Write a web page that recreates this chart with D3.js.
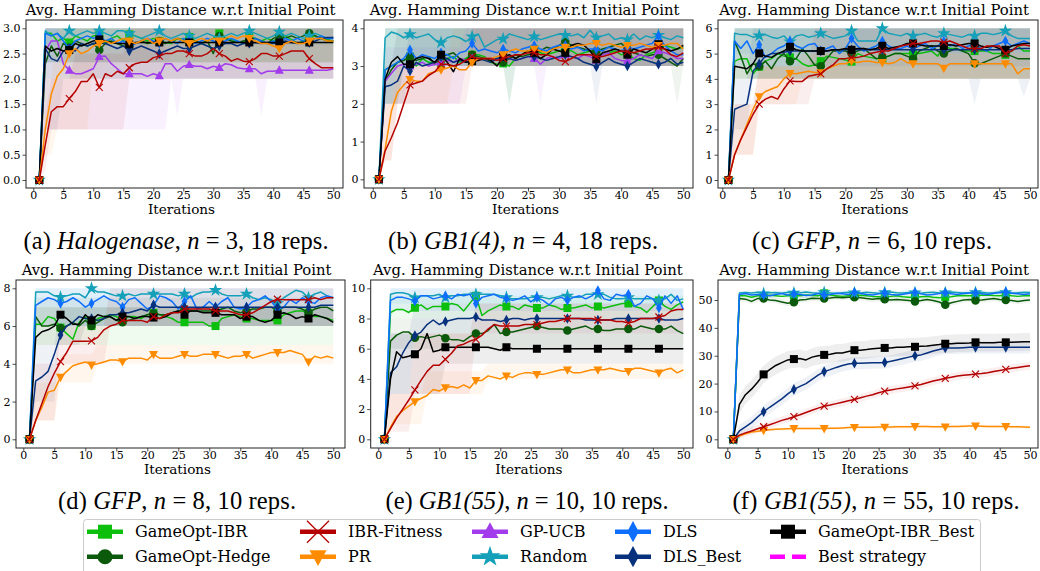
<!DOCTYPE html>
<html>
<head>
<meta charset="utf-8">
<script src="https://cdn.jsdelivr.net/npm/d3@7"></script>
<style>
  body { margin: 0; background: #fff; }
  svg { display: block; }
  text { font-family: "DejaVu Serif", serif; fill: #000; }
  text.cap { font-family: "Liberation Serif", "Times New Roman", serif; }
</style>
</head>
<body>
<svg id="fig" width="1040" height="571"></svg>
<script>
// Avg. Hamming distance to the initial point, 6 benchmark panels + shared legend.
const ITERS = d3.range(1, 51);
const X_TICKS = [0, 5, 10, 15, 20, 25, 30, 35, 40, 45, 50];

// ---- (a) Halogenase, n = 3
const a_ibr   = [0,2.9,2.9,2.75,2.8,2.72,2.85,2.8,2.75,2.85, 2.87,2.7,2.8,2.85,2.75,2.88,2.85,2.8,2.75,2.8, 2.75,2.72,2.7,2.8,2.78,2.83,2.75,2.7,2.75,2.8, 2.9,2.8,2.78,2.75,2.7,2.83,2.8,2.75,2.8,2.75, 2.82,2.85,2.78,2.7,2.75,2.83,2.85,2.8,2.78,2.75];
const a_hedge = [0,2.3,2.65,2.45,2.7,2.62,2.75,2.7,2.65,2.7, 2.57,2.7,2.75,2.7,2.65,2.65,2.7,2.75,2.7,2.72, 2.75,2.7,2.75,2.8,2.75,2.72,2.75,2.7,2.75,2.5, 2.85,2.8,2.75,2.72,2.75,2.78,2.8,2.75,2.7,2.8, 2.85,2.8,2.85,2.8,2.85,2.9,2.85,2.8,2.75,2.75];
const a_fit   = [0,0.7,1.35,1.45,1.45,1.61,1.75,1.95,1.95,2.1, 1.83,2.1,2.05,2.15,2.1,2.22,2.3,2.33,2.33,2.42, 2.45,2.5,2.5,2.55,2.55,2.5,2.45,2.45,2.5,2.6, 2.5,2.45,2.35,2.4,2.35,2.34,2.4,2.5,2.5,2.45, 2.45,2.5,2.55,2.55,2.55,2.4,2.3,2.22,2.22,2.22];
const a_pr    = [0,1.0,1.7,2.05,2.2,2.5,2.6,2.5,2.55,2.65, 2.7,2.75,2.7,2.75,2.8,2.75,2.7,2.75,2.8,2.7, 2.75,2.8,2.75,2.8,2.75,2.7,2.75,2.8,2.75,2.8, 2.75,2.8,2.85,2.8,2.85,2.8,2.75,2.7,2.7,2.65, 2.6,2.7,2.75,2.7,2.7,2.75,2.8,2.8,2.75,2.75];
const a_ucb   = [0,2.55,2.75,2.75,2.3,2.17,2.1,2.1,2.15,2.2, 2.44,2.45,2.3,2.2,2.1,2.1,2.1,2.1,2.05,2.1, 2.06,2.3,2.3,2.15,2.25,2.28,2.25,2.25,2.2,2.25, 2.22,2.3,2.28,2.22,2.2,2.2,2.2,2.1,2.15,2.15, 2.17,2.17,2.17,2.17,2.17,2.17,2.17,2.17,2.17,2.2];
const a_rand  = [0,2.95,2.85,2.9,2.8,2.95,2.85,2.9,2.95,2.9, 2.95,2.9,2.85,2.95,2.95,2.9,2.85,2.8,2.85,2.9, 2.95,2.85,2.8,2.85,2.9,2.85,2.8,2.85,2.9,2.85, 2.8,2.85,2.9,2.85,2.9,2.95,2.9,2.85,2.8,2.85, 2.93,2.85,2.9,2.85,2.8,2.85,2.9,2.85,2.8,2.82];
const a_dls   = [0,2.9,2.85,2.9,2.75,2.6,2.75,2.8,2.85,2.8, 2.85,2.75,2.8,2.7,2.75,2.6,2.7,2.75,2.8,2.75, 2.7,2.8,2.75,2.7,2.8,2.75,2.7,2.75,2.8,2.75, 2.7,2.75,2.8,2.75,2.7,2.72,2.8,2.75,2.7,2.75, 2.72,2.8,2.75,2.8,2.75,2.72,2.8,2.85,2.8,2.8];
const a_dlsb  = [0,2.6,2.4,2.35,2.55,2.6,2.55,2.7,2.65,2.7, 2.72,2.7,2.65,2.6,2.65,2.55,2.6,2.65,2.6,2.55, 2.5,2.55,2.6,2.65,2.6,2.6,2.65,2.7,2.65,2.6, 2.65,2.7,2.7,2.65,2.7,2.7,2.72,2.7,2.72,2.7, 2.72,2.75,2.72,2.7,2.72,2.72,2.75,2.8,2.82,2.82];
const a_ibrb  = [0,2.65,2.55,2.6,2.55,2.57,2.7,2.65,2.7,2.75, 2.78,2.75,2.72,2.7,2.7,2.68,2.72,2.72,2.72,2.72, 2.72,2.72,2.72,2.72,2.72,2.72,2.72,2.72,2.72,2.72, 2.72,2.72,2.72,2.72,2.72,2.72,2.72,2.72,2.72,2.72, 2.72,2.72,2.72,2.72,2.72,2.72,2.72,2.72,2.72,2.72];
// shaded spread: [series, first iter, last iter, low, high]
const a_bands = [
  ['rand',2,50,2.67,3], ['dls',2,50,2.33,3], ['dlsb',2,4,1,3], ['dlsb',5,50,2,3],
  ['ibrb',2,50,2.33,3], ['ibr',2,50,2.33,3], ['hedge',2,50,2,3],
  ['pr',2,3,0.5,2], ['pr',4,9,1,3], ['pr',10,50,2.33,3],
  ['fit',2,2,0.2,1.3], ['fit',3,6,1,2], ['fit',7,15,1,2.5], ['fit',16,50,2,3],
  ['ucb',2,4,1,3], ['ucb',5,22,1,2.67], ['ucb',23,50,2,2.33], ['ucb',24,24,1.25,2.33], ['ucb',38,38,1.25,2.33]
];

// ---- (b) GB1(4), n = 4
const b_ibr   = [0,2.9,3.0,3.1,3.15,3.25,3.0,3.2,3.1,3.1, 3.05,3.2,3.25,3.1,3.2,3.3,3.3,3.25,3.1,3.05, 3.07,3.0,3.2,3.3,3.4,3.45,3.35,3.3,3.35,3.4, 3.45,3.4,3.3,3.35,3.4,3.35,3.3,3.35,3.4,3.3, 3.35,3.2,3.15,3.3,3.35,3.4,3.55,3.5,3.45,3.5];
const b_hedge = [0,2.6,2.9,3.1,3.15,3.25,3.15,3.2,3.25,3.05, 3.25,3.3,3.35,3.2,3.15,3.3,3.25,3.2,3.15,3.2, 3.1,3.2,3.3,3.25,3.3,3.35,3.4,3.5,3.45,3.55, 3.65,3.55,3.5,3.45,3.4,3.4,3.45,3.5,3.55,3.6, 3.45,3.35,3.3,3.25,3.3,3.3,3.2,3.1,3.0,3.2];
const b_fit   = [0,0.75,1.1,1.5,2.0,2.5,2.55,2.6,2.75,2.85, 3.05,3.05,3.0,3.05,3.15,3.25,3.2,3.2,3.2,3.15, 3.2,3.25,3.3,3.3,3.35,3.35,3.3,3.3,3.25,3.15, 3.12,3.2,3.3,3.3,3.3,3.25,3.25,3.3,3.35,3.4, 3.38,3.35,3.4,3.45,3.45,3.5,3.45,3.3,3.25,3.35];
const b_pr    = [0,0.8,1.8,2.3,2.5,2.65,2.6,2.6,2.8,2.85, 2.9,2.95,3.0,2.9,2.9,3.1,3.2,3.2,3.2,3.25, 3.3,3.4,3.45,3.4,3.4,3.45,3.4,3.35,3.45,3.5, 3.5,3.5,3.55,3.55,3.6,3.6,3.55,3.6,3.55,3.5, 3.55,3.55,3.6,3.55,3.5,3.55,3.55,3.6,3.6,3.45];
const b_ucb   = [0,2.6,2.8,3.0,3.05,3.0,3.05,3.1,3.0,3.05, 3.1,3.15,3.1,3.2,3.15,3.2,3.15,3.2,3.2,3.15, 3.25,3.2,3.15,3.2,3.25,3.2,3.05,3.2,3.25,3.2, 3.3,3.25,3.2,3.3,3.25,3.15,3.3,3.35,3.2,3.15, 3.13,3.2,3.3,3.25,3.2,3.4,3.35,3.3,3.2,3.2];
const b_rand  = [0,3.75,3.9,3.85,3.75,3.84,3.75,3.8,3.85,3.7, 3.62,3.75,3.8,3.75,3.65,3.78,3.85,3.5,3.6,3.7, 3.72,3.85,3.8,3.75,3.7,3.78,3.7,3.75,3.8,3.85, 3.82,3.8,3.85,3.75,3.95,3.75,3.8,3.85,3.7,3.75, 3.7,3.85,3.7,3.8,3.75,3.82,3.75,3.7,3.8,3.75];
const b_dls   = [0,2.9,3.0,3.1,3.2,3.43,3.2,3.3,3.25,3.2, 3.35,3.3,3.2,3.35,3.4,3.6,3.4,3.45,3.4,3.35, 3.45,3.4,3.35,3.45,3.5,3.55,3.45,3.4,3.5,3.55, 3.55,3.45,3.5,3.4,3.45,3.45,3.4,3.5,3.45,3.4, 3.5,3.45,3.5,3.55,3.6,3.8,3.55,3.4,3.3,3.3];
const b_dlsb  = [0,2.45,2.5,2.6,3.0,2.87,3.1,3.0,3.05,3.1, 3.25,3.2,3.1,3.15,3.1,3.15,3.2,3.15,3.1,3.2, 3.25,3.2,3.15,3.2,3.25,3.25,3.2,3.15,3.2,3.25, 3.3,3.25,3.2,3.1,3.05,2.98,3.1,3.2,3.1,3.05, 3.0,3.1,3.2,3.15,3.1,3.05,3.1,3.2,3.05,3.1];
const b_ibrb  = [0,2.65,3.1,3.25,3.05,3.05,3.2,3.25,3.2,3.1, 3.3,3.1,2.85,3.2,3.1,3.13,3.15,3.2,3.15,3.0, 3.25,3.3,3.2,3.3,3.4,3.35,3.2,3.3,3.45,3.4, 3.35,3.55,3.6,3.55,3.4,3.18,3.35,3.4,3.45,3.4, 3.3,3.45,3.4,3.35,3.45,3.58,3.45,3.4,3.45,3.55];
const b_bands = [
  ['rand',2,50,3,4], ['dls',2,50,3,4], ['dlsb',2,5,2,3], ['dlsb',6,50,3,4], ['dlsb',22,22,2,4], ['dlsb',36,36,2,4],
  ['ibrb',2,3,2,3], ['ibrb',4,50,3,4], ['ibr',2,4,2,4], ['ibr',5,50,3,4], ['ibr',22,22,2,4],
  ['hedge',2,4,2,4], ['hedge',5,50,3,4], ['hedge',49,49,2,4],
  ['pr',2,3,0.5,2], ['pr',4,12,2,3], ['pr',13,50,3,4],
  ['fit',2,3,0.5,2], ['fit',4,15,2,3], ['fit',16,50,3,4],
  ['ucb',2,14,2,3.5], ['ucb',15,50,3,4], ['ucb',27,27,2,4]
];

// ---- (c) GFP, n = 6
const c_ibr   = [0,4.7,4.8,4.8,4.2,4.48,4.7,4.8,5.0,4.9, 4.85,4.8,4.6,4.5,4.55,4.7,4.9,4.85,4.8,4.75, 4.68,5.0,4.9,4.85,4.8,4.8,4.9,5.0,5.0,5.0, 5.0,5.0,5.05,5.1,4.9,5.3,5.2,5.2,5.1,5.1, 5.1,5.1,5.1,5.0,5.0,4.95,5.1,5.3,5.1,5.1];
const c_hedge = [0,5.5,4.9,4.2,4.6,4.5,4.7,4.4,4.8,5.0, 4.7,4.8,5.2,4.9,4.55,4.5,4.8,5.1,5.1,5.1, 5.0,5.1,5.2,5.0,4.8,4.85,4.9,5.0,5.0,4.9, 4.8,5.1,5.2,5.3,5.1,5.0,5.1,5.2,5.1,5.0, 4.62,4.6,4.7,4.8,4.9,5.0,4.9,4.8,4.8,4.8];
const c_fit   = [0,1.0,1.6,2.1,2.6,3.0,3.2,3.3,3.2,3.6, 3.92,3.9,3.9,4.1,4.15,4.2,4.4,4.55,4.8,4.8, 4.85,4.85,4.9,5.0,5.05,5.1,5.1,5.2,5.3,5.35, 5.4,5.4,5.45,5.5,5.5,5.45,5.5,5.4,5.3,5.2, 5.2,5.2,5.3,5.3,5.3,5.0,5.1,5.3,5.35,5.3];
const c_pr    = [0,1.0,1.6,2.2,2.8,3.3,3.5,3.6,3.7,4.0, 4.22,4.2,4.25,4.3,4.25,4.25,4.4,4.5,4.6,4.6, 4.7,4.65,4.7,4.7,4.65,4.65,4.6,4.65,4.8,4.65, 4.6,4.6,4.6,4.6,4.6,4.42,4.6,4.6,4.6,4.6, 4.6,4.6,4.6,4.6,4.6,4.6,4.6,4.2,4.4,4.4];
const c_rand  = [0,5.8,5.75,5.75,5.65,5.71,5.75,5.65,5.6,5.7, 5.47,5.7,5.75,5.65,5.7,5.8,5.7,5.6,5.65,5.7, 5.9,5.5,5.5,5.5,5.5,6.0,5.8,5.75,5.7,5.8, 5.7,5.75,5.8,5.7,5.65,5.8,5.75,5.7,5.65,5.75, 5.7,5.8,5.8,5.75,5.8,5.9,5.7,5.6,5.6,5.6];
const c_dls   = [0,5.5,5.2,5.5,5.0,5.35,4.85,5.0,5.2,5.3, 5.5,5.3,5.2,5.35,5.4,5.1,5.2,5.3,5.0,5.2, 5.6,5.3,5.1,5.2,5.3,5.5,5.3,5.2,5.2,5.3, 5.2,5.3,5.4,5.2,5.3,5.5,5.3,5.4,5.2,5.3, 5.4,5.2,5.1,5.3,5.4,5.5,5.3,5.4,5.5,5.4];
const c_dlsb  = [0,2.8,2.9,3.0,4.3,4.6,4.9,5.0,5.0,5.05, 5.1,5.1,5.1,5.1,5.1,5.1,5.1,5.15,5.15,5.15, 5.15,5.15,5.15,5.15,5.15,5.15,5.15,5.15,5.15,5.15, 5.15,5.15,5.15,5.15,5.15,5.15,5.15,5.15,5.15,5.15, 5.15,5.15,5.15,5.15,5.15,5.15,5.15,5.2,5.2,5.2];
const c_ibrb  = [0,4.5,4.45,4.4,4.6,5.01,4.9,4.85,5.0,5.1, 5.27,5.15,5.1,5.1,5.1,5.1,5.1,5.15,5.15,5.2, 5.15,5.2,5.2,5.15,5.2,5.31,5.2,5.25,5.3,5.4, 5.4,5.35,5.3,5.3,5.3,5.3,5.35,5.3,5.35,5.4, 5.4,5.3,5.25,5.3,5.2,5.15,5.3,5.35,5.4,5.4];
const c_bands = [
  ['rand',2,50,5,6], ['dls',2,50,4.5,6], ['dlsb',2,4,2,4], ['dlsb',5,50,4,6], ['dlsb',41,41,3,6], ['dlsb',49,49,3.3,6],
  ['ibrb',2,50,4,6], ['ibr',2,50,4,6], ['hedge',2,50,4,6],
  ['pr',2,5,1,3], ['pr',6,12,3,4.5], ['pr',13,50,4,5],
  ['fit',2,5,1,3], ['fit',6,14,3,4.5], ['fit',15,50,4,6]
];

// ---- (d) GFP, n = 8
const d_ibr   = [0,6.1,6.1,6.5,6.4,5.92,5.6,5.3,6.2,6.5, 6.0,6.4,6.5,6.6,6.5,6.3,6.5,6.5,6.4,6.6, 6.7,6.6,6.5,6.4,6.2,6.2,6.2,6.2,6.2,6.0, 6.0,6.4,6.5,6.6,6.5,6.4,6.4,6.3,6.3,6.3, 6.3,6.6,6.7,6.8,6.8,6.7,6.5,6.5,6.4,6.3];
const d_hedge = [0,6.5,6.0,6.0,6.1,5.9,6.0,6.2,6.0,6.3, 6.0,6.2,6.4,6.5,6.3,6.2,6.3,6.4,6.5,6.6, 6.68,6.6,6.6,6.7,6.8,6.9,6.8,6.8,6.8,6.8, 6.8,6.9,7.0,6.8,6.7,6.8,6.9,6.9,7.0,7.0, 6.8,7.0,7.0,7.0,6.9,6.7,6.9,7.0,7.0,6.8];
const d_fit   = [0,1.0,1.9,2.8,3.5,4.12,4.6,5.2,5.2,5.2, 5.21,5.4,5.8,6.0,6.1,6.29,6.3,6.3,6.3,6.2, 6.5,6.4,6.6,6.7,6.7,6.9,6.9,6.9,6.9,6.9, 6.8,6.8,6.8,6.7,6.6,6.6,6.7,6.9,7.1,7.3, 7.42,7.4,7.4,7.4,7.4,7.4,7.5,7.4,7.5,7.5];
const d_pr    = [0,1.0,1.7,2.5,2.6,3.29,3.6,3.9,4.0,4.1, 3.94,4.0,4.1,4.2,4.2,4.12,4.3,4.3,4.3,4.2, 4.5,4.3,4.3,4.3,4.4,4.5,4.4,4.4,4.5,4.5, 4.5,4.4,4.3,4.4,4.4,4.5,4.3,4.4,4.5,4.6, 4.6,4.6,4.7,4.6,4.5,4.1,4.4,4.3,4.4,4.3];
const d_rand  = [0,7.8,7.8,7.8,7.6,7.53,7.6,7.7,7.7,7.5, 8.0,7.8,7.8,7.7,7.6,7.6,7.7,7.6,7.7,7.7, 7.7,7.7,7.7,7.7,7.6,7.7,7.5,7.7,7.8,7.8, 7.9,7.7,7.6,7.6,7.6,7.7,7.5,7.4,7.5,7.4, 7.2,7.5,7.7,7.9,7.8,7.5,7.7,7.8,7.6,7.5];
const d_dls   = [0,7.1,7.3,7.5,7.4,7.2,7.3,7.5,7.3,7.0, 7.2,7.4,7.6,7.4,7.3,7.0,7.4,7.5,7.2,6.9, 7.1,7.6,7.5,7.3,6.9,7.3,7.6,6.9,7.0,7.3, 7.0,7.3,7.5,7.0,6.9,7.0,7.3,7.4,7.6,7.3, 6.9,7.0,7.4,7.2,7.5,7.3,7.2,7.5,7.6,7.5];
const d_dlsb  = [0,3.1,3.3,3.6,4.5,5.53,6.0,6.2,6.5,6.4, 6.4,6.3,6.4,6.6,6.6,6.7,6.7,6.8,6.9,6.8, 7.12,7.0,7.0,7.0,7.0,7.0,7.0,7.0,7.0,7.0, 7.0,7.0,7.0,7.0,7.0,7.0,7.0,7.0,7.0,7.0, 7.0,7.0,7.0,7.0,7.0,7.0,7.0,7.1,7.1,7.1];
const d_ibrb  = [0,5.4,5.7,5.8,6.0,6.6,6.4,6.1,6.1,6.6, 6.3,6.6,6.5,6.5,6.3,6.5,6.5,6.4,6.5,6.5, 6.45,6.4,6.5,6.7,6.8,6.6,6.8,6.8,6.7,6.7, 6.7,6.6,6.6,6.6,6.4,6.5,6.5,6.3,6.2,6.3, 6.6,6.7,6.6,6.4,6.5,6.4,6.6,6.5,6.4,6.2];
const d_bands = [
  ['rand',2,50,7,8], ['dls',2,50,6,8], ['dlsb',2,5,2,5], ['dlsb',6,50,6,7],
  ['ibrb',2,9,5,7], ['ibrb',10,50,6,7], ['ibr',2,50,5,7], ['hedge',2,50,6,7.5],
  ['pr',2,5,1,3], ['pr',6,11,3,4.5], ['pr',12,50,4,5],
  ['fit',2,5,1,4], ['fit',6,13,4,6], ['fit',14,50,6,8]
];

// ---- (e) GB1(55), n = 10
const e_ibr   = [0,8.4,8.6,8.6,8.4,8.72,8.9,8.6,8.8,8.8, 8.8,9.0,8.9,8.5,9.0,9.5,8.2,8.5,8.7,8.9, 8.8,8.8,8.6,8.9,8.8,8.7,8.7,8.9,8.8,8.6, 8.7,8.7,8.8,8.9,8.7,8.8,8.7,8.8,8.9,9.0, 9.0,8.8,8.7,8.4,8.8,9.2,8.8,8.6,8.9,9.1];
const e_hedge = [0,6.5,6.9,7.1,7.1,6.73,6.8,6.7,6.8,6.9, 6.7,6.6,6.6,6.5,6.8,7.0,7.0,7.2,7.6,7.0, 7.1,7.1,7.2,7.3,7.4,7.5,7.4,7.3,7.3,7.3, 7.2,7.3,7.4,7.5,7.3,7.3,7.2,7.2,7.3,7.3, 7.3,7.3,7.5,7.4,7.3,7.3,7.3,7.5,7.2,7.0];
const e_fit   = [0,0.7,1.4,2.0,2.6,3.27,3.9,4.5,4.9,4.9, 5.3,5.7,6.2,6.3,6.5,6.62,6.9,7.3,7.6,7.5, 7.5,7.5,7.5,7.6,7.6,7.6,7.7,7.8,7.8,7.9, 8.0,8.0,8.0,8.0,8.0,7.9,7.9,7.9,7.8,7.8, 7.7,7.8,8.0,8.0,8.0,8.1,8.2,8.5,8.6,8.6];
const e_pr    = [0,0.8,1.5,1.9,2.2,2.5,2.7,2.9,3.3,3.2, 3.42,3.5,3.4,3.6,3.4,3.9,3.9,4.2,4.1,4.0, 4.2,4.1,4.3,4.4,4.4,4.3,4.3,4.4,4.5,4.6, 4.6,4.4,4.4,4.5,4.6,4.6,4.6,4.7,4.6,4.5, 4.5,4.7,4.7,4.6,4.5,4.4,4.6,4.7,4.4,4.6];
const e_rand  = [0,9.6,9.7,9.7,9.6,9.38,9.5,9.5,9.5,9.6, 9.4,9.5,9.5,9.6,9.6,9.6,9.6,9.6,9.6,9.5, 9.4,9.3,9.3,9.3,9.4,9.4,9.4,9.3,9.4,9.5, 9.5,9.4,9.4,9.6,9.6,9.6,9.6,9.4,9.3,9.3, 9.4,9.3,9.3,9.3,9.3,9.2,9.3,9.6,9.2,9.3];
const e_dls   = [0,9.2,9.4,9.4,9.3,9.15,9.5,9.5,9.3,9.4, 9.5,9.3,9.6,9.5,9.6,9.0,9.4,9.5,9.6,9.4, 9.3,9.2,9.3,9.5,9.1,9.4,9.2,8.9,9.3,9.4, 9.2,9.4,9.5,9.3,9.5,9.85,9.3,9.2,9.6,9.5, 9.6,8.8,9.0,9.5,9.3,8.7,9.5,9.0,9.5,8.6];
const e_dlsb  = [0,4.4,4.8,5.7,6.4,6.87,7.1,7.6,7.9,7.6, 7.8,7.9,8.0,8.0,8.0,8.1,7.9,7.9,7.9,7.8, 7.9,8.0,8.0,7.9,8.0,8.0,8.0,8.0,8.0,8.0, 8.0,8.0,8.0,7.9,7.9,7.9,7.9,7.9,8.0,8.0, 8.0,8.0,8.0,8.0,8.0,8.0,7.9,7.9,7.9,8.0];
const e_ibrb  = [0,4.0,5.8,5.4,5.5,5.63,6.0,7.0,5.8,5.9, 6.1,6.1,6.1,6.1,6.1,6.1,6.1,6.1,6.0,5.9, 6.1,6.0,6.0,6.0,6.0,6.0,6.0,6.0,6.0,6.0, 6.0,6.0,6.0,6.0,6.0,6.0,6.0,6.0,6.0,6.0, 6.0,6.0,6.0,6.0,6.0,6.0,6.0,6.0,6.0,6.0];
const e_bands = [
  ['rand',2,50,9,10], ['dls',2,50,8.5,10], ['ibr',2,50,8,9.5], ['dlsb',2,5,3,7], ['dlsb',6,50,7,9],
  ['hedge',2,50,6,8], ['ibrb',2,10,3,7], ['ibrb',11,50,5,7],
  ['fit',2,5,0.5,3], ['fit',6,15,3,7], ['fit',16,50,7,9],
  ['pr',2,7,1,3], ['pr',8,17,3,4.5], ['pr',18,50,4,5]
];

// ---- (f) GB1(55), n = 55
const f_ibr   = [0,51.5,51.5,51,51.5,51.5,51.7,51.5,51.3,51.5, 51.6,51.5,51.8,51.6,51.5,52.4,51.8,51.5,51.3,51.5, 51.6,51.7,51.5,51.3,51.2,51.0,51.3,51.5,51.2,51.0, 51.0,51.2,51.3,51.0,50.8,51.0,51.2,51.5,51.6,51.5, 51.5,51.7,51.8,51.6,51.5,51.8,51.5,51.3,51.5,51.5];
const f_hedge = [0,50.5,50.3,49.5,50.5,50.5,50.0,49.8,49.3,48.8, 49.2,50.0,50.2,50.6,50.5,50.5,50.7,51.0,50.8,51.0, 51.0,50.8,50.5,50.3,50.5,50.3,50.0,50.2,50.0,49.8, 49.5,49.8,50.2,49.8,49.3,48.3,49.0,49.5,50.0,50.2, 49.8,50.0,50.3,50.5,50.2,50.0,49.8,49.5,49.8,50.0];
const f_fit   = [0,1.5,2.3,3.0,3.8,4.5,5.2,6.0,6.8,7.4, 8.1,8.8,9.6,10.4,11.2,11.9,12.3,12.8,13.3,13.8, 14.3,14.9,15.5,16.0,16.7,17.3,17.7,18.1,18.4,18.8, 19.2,19.7,20.3,20.9,21.4,21.9,22.3,22.7,23.0,23.2, 23.4,23.6,23.9,24.3,24.7,25.1,25.5,25.8,26.1,26.4];
const f_pr    = [0,1.2,2.0,2.6,2.9,3.2,3.4,3.6,3.7,3.8, 3.9,3.9,3.9,3.9,3.9,3.9,4.0,4.0,4.1,4.2, 4.3,4.3,4.3,4.3,4.4,4.4,4.4,4.5,4.5,4.5, 4.6,4.6,4.6,4.5,4.5,4.5,4.6,4.6,4.7,4.8, 4.8,4.7,4.6,4.6,4.6,4.6,4.5,4.5,4.4,4.3];
const f_rand  = [0,52.5,52.7,52.5,52.8,52.3,52.6,52.7,52.4,52.8, 52.5,52.6,52.9,52.6,52.4,52.7,52.5,52.3,52.6,52.8, 52.6,52.5,52.8,52.6,52.4,52.7,52.9,52.6,52.5,52.7, 52.6,52.4,52.7,52.8,52.5,52.6,52.9,52.7,52.5,52.6, 52.7,52.8,52.5,52.6,52.9,52.7,52.5,52.6,52.8,52.7];
const f_dls   = [0,52.0,52.3,51.8,52.0,51.8,51.5,52.0,52.3,51.8, 52.2,52.0,51.6,51.8,52.3,51.8,52.0,52.4,52.2,52.0, 52.8,52.3,52.0,51.8,52.2,52.6,52.0,51.8,52.1,52.4, 52.8,52.2,51.8,52.0,52.3,52.7,52.2,52.0,52.3,52.5, 52.6,52.2,52.0,52.4,52.6,52.9,52.4,52.2,52.0,52.2];
const f_dlsb  = [0,3,4.5,6,8,9.9,11.5,13,14.5,16.3, 17.9,19,20,21.5,23,24.3,25,25.8,26.5,27, 27.3,27.3,27.4,27.5,27.5,27.6,28,28.5,29,29.5, 30,30.3,31,31.7,32.2,32.8,32.8,32.8,32.9,33, 33,33,33,33,33,33,33,33,33,33];
const f_ibrb  = [0,12.5,16,18,20.5,23.3,25,26.5,27.5,28.5, 28.8,29,28.5,29.5,30,30.3,30.5,31,31,31.5, 32,32,32.2,32.5,32.7,32.8,32.8,33,33,33.2, 33.2,33.4,33.5,33.8,34,34.3,34.3,34.5,34.5,34.6, 34.8,34.7,34.7,34.7,34.8,34.8,34.8,34.9,35,35];
// half-width of the shaded spread per series (from iteration 2 on)
const f_spread = [['rand',0.8], ['dls',1], ['ibr',1], ['hedge',1], ['ibrb',3.2], ['dlsb',2.2], ['fit',1.4], ['pr',0.6]];

const SERIES = [
  { key: 'ibr',   name: 'GameOpt-IBR',      color: '#0cbf0c', mark: 'square' },
  { key: 'hedge', name: 'GameOpt-Hedge',    color: '#0b5a0b', mark: 'circle' },
  { key: 'fit',   name: 'IBR-Fitness',      color: '#b50000', mark: 'x' },
  { key: 'pr',    name: 'PR',               color: '#ff8c00', mark: 'tridown' },
  { key: 'ucb',   name: 'GP-UCB',           color: '#a23bec', mark: 'triup' },
  { key: 'rand',  name: 'Random',           color: '#13a0b8', mark: 'star' },
  { key: 'dls',   name: 'DLS',              color: '#0d6efd', mark: 'thin' },
  { key: 'dlsb',  name: 'DLS_Best',         color: '#07307d', mark: 'thin' },
  { key: 'ibrb',  name: 'GameOpt-IBR_Best', color: '#000000', mark: 'square' },
  { key: 'best',  name: 'Best strategy',    color: '#ff00ff', mark: 'dash' }
];
// draw order inside each panel
const DRAW_ORDER = ['ibr', 'hedge', 'ucb', 'rand', 'dls', 'dlsb', 'ibrb', 'pr', 'fit'];

const PANELS = [
  { tag: '(a)', name: 'Halogenase', n: 3,  reps: 18, yTicks: [0,0.5,1,1.5,2,2.5,3], yFmt: '.1f', yTop: 3,
    box: { l: 26, r: 343, t: 20, b: 188 }, x0: 33.3, x50: 333.3, y0: 180, yT: 28.3, capX: 176, capY: 249, capW: 305,
    data: { ibr: a_ibr, hedge: a_hedge, fit: a_fit, pr: a_pr, ucb: a_ucb, rand: a_rand, dls: a_dls, dlsb: a_dlsb, ibrb: a_ibrb }, bands: a_bands },
  { tag: '(b)', name: 'GB1(4)', n: 4, reps: 18, yTicks: [0,1,2,3,4], yFmt: 'd', yTop: 4,
    box: { l: 364, r: 693, t: 20, b: 188 }, x0: 372.7, x50: 683.3, y0: 179.3, yT: 28.3, capX: 523, capY: 249, capW: 270,
    data: { ibr: b_ibr, hedge: b_hedge, fit: b_fit, pr: b_pr, ucb: b_ucb, rand: b_rand, dls: b_dls, dlsb: b_dlsb, ibrb: b_ibrb }, bands: b_bands },
  { tag: '(c)', name: 'GFP', n: 6, reps: 10, yTicks: [0,1,2,3,4,5,6], yFmt: 'd', yTop: 6,
    box: { l: 718, r: 1038, t: 20, b: 188 }, x0: 722.3, x50: 1030, y0: 180, yT: 28.3, capX: 872, capY: 249, capW: 240,
    data: { ibr: c_ibr, hedge: c_hedge, fit: c_fit, pr: c_pr, rand: c_rand, dls: c_dls, dlsb: c_dlsb, ibrb: c_ibrb }, bands: c_bands },
  { tag: '(d)', name: 'GFP', n: 8, reps: 10, yTicks: [0,2,4,6,8], yFmt: 'd', yTop: 8,
    box: { l: 16, r: 345, t: 280, b: 448 }, x0: 23.3, x50: 333.3, y0: 439.3, yT: 288.3, capX: 177, capY: 509, capW: 238,
    data: { ibr: d_ibr, hedge: d_hedge, fit: d_fit, pr: d_pr, rand: d_rand, dls: d_dls, dlsb: d_dlsb, ibrb: d_ibrb }, bands: d_bands },
  { tag: '(e)', name: 'GB1(55)', n: 10, reps: 10, yTicks: [0,2,4,6,8,10], yFmt: 'd', yTop: 10,
    box: { l: 370.7, r: 693, t: 280, b: 448 }, x0: 378.3, x50: 683.3, y0: 439.3, yT: 288.3, capX: 527, capY: 509, capW: 283,
    data: { ibr: e_ibr, hedge: e_hedge, fit: e_fit, pr: e_pr, rand: e_rand, dls: e_dls, dlsb: e_dlsb, ibrb: e_ibrb }, bands: e_bands },
  { tag: '(f)', name: 'GB1(55)', n: 55, reps: 10, yTicks: [0,10,20,30,40,50], yFmt: 'd', yTop: 50,
    box: { l: 718, r: 1038, t: 280, b: 448 }, x0: 727.3, x50: 1030, y0: 439.3, yT: 300, capX: 876, capY: 509, capW: 287,
    data: { ibr: f_ibr, hedge: f_hedge, fit: f_fit, pr: f_pr, rand: f_rand, dls: f_dls, dlsb: f_dlsb, ibrb: f_ibrb }, spread: f_spread }
];

const svg = d3.select('#fig');
const byKey = Object.fromEntries(SERIES.map(s => [s.key, s]));

// marker path, w = nominal width in px
function markPath(kind, w) {
  const h = w / 2;
  switch (kind) {
    case 'square': return d3.symbol(d3.symbolSquare, w * w)();
    case 'circle': return d3.symbol(d3.symbolCircle, Math.PI * h * h)();
    case 'x': return `M${-h},${-h}L${h},${h}M${-h},${h}L${h},${-h}`;
    case 'triup': return `M0,${-h * 1.1}L${h},${h * 0.75}L${-h},${h * 0.75}Z`;
    case 'tridown': return `M0,${h * 1.1}L${h},${-h * 0.75}L${-h},${-h * 0.75}Z`;
    case 'star': return d3.symbol(d3.symbolStar, w * w * 0.42)();
    case 'thin': return `M0,${-h * 1.25}L${h * 0.68},0L0,${h * 1.25}L${-h * 0.68},0Z`;
  }
  return '';
}
const PLOT_MARK = { square: 8, circle: 8.5, x: 7, triup: 9, tridown: 9, star: 11.5, thin: 8.5 };
const LEG_MARK = { square: 14, circle: 15, x: 22, triup: 17, tridown: 17, star: 18, thin: 17 };

function drawMark(g, s, x, y, w) {
  const p = g.append('path').attr('d', markPath(s.mark, w)).attr('transform', `translate(${x},${y})`);
  if (s.mark === 'x') p.attr('fill', 'none').attr('stroke', s.color).attr('stroke-width', w > 12 ? 1.3 : 1.1);
  else p.attr('fill', s.color);
}

PANELS.forEach(P => {
  const { box } = P;
  const x = d3.scaleLinear().domain([0, 50]).range([P.x0, P.x50]);
  const y = d3.scaleLinear().domain([0, P.yTop]).range([P.y0, P.yT]);
  const g = svg.append('g');

  const clipId = 'clip' + P.tag.replace(/\W/g, '');
  svg.append('clipPath').attr('id', clipId).append('rect')
    .attr('x', box.l).attr('y', box.t).attr('width', box.r - box.l).attr('height', box.b - box.t);
  const plot = g.append('g').attr('clip-path', `url(#${clipId})`);

  const keys = DRAW_ORDER.filter(k => P.data[k]);

  // shaded spreads
  const bandG = plot.append('g');
  keys.forEach(k => {
    const v = P.data[k];
    const lo = v.slice(), hi = v.slice();
    if (P.bands) {
      P.bands.filter(b => b[0] === k).forEach(([, from, to, l, h]) => {
        for (let i = from; i <= to; i++) { lo[i - 1] = l; hi[i - 1] = h; }
      });
    } else {
      const sp = P.spread.find(s => s[0] === k)[1];
      for (let i = 2; i <= 50; i++) { lo[i - 1] = v[i - 1] - sp; hi[i - 1] = v[i - 1] + sp; }
    }
    const area = d3.area().x((d, i) => x(ITERS[i])).y0((d, i) => y(lo[i])).y1((d, i) => y(hi[i]));
    bandG.append('path').attr('d', area(v)).attr('fill', byKey[k].color).attr('fill-opacity', 0.065);
  });

  // lines + markers every 5 iterations
  const line = d3.line().x((d, i) => x(ITERS[i])).y(d => y(d));
  keys.forEach(k => {
    const s = byKey[k], v = P.data[k];
    plot.append('path').attr('d', line(v)).attr('fill', 'none')
      .attr('stroke', s.color).attr('stroke-width', 1.5).attr('stroke-linejoin', 'round');
    const mg = plot.append('g');
    ITERS.forEach((it, i) => {
      if ((it - 1) % 5 === 0) drawMark(mg, s, x(it), y(v[i]), PLOT_MARK[s.mark]);
    });
  });

  // frame
  g.append('rect').attr('x', box.l).attr('y', box.t).attr('width', box.r - box.l).attr('height', box.b - box.t)
    .attr('fill', 'none').attr('stroke', '#222').attr('stroke-width', 1);

  // axes
  const xAxis = d3.axisBottom(x).tickValues(X_TICKS).tickSize(3.5).tickPadding(0).tickFormat(d3.format('d'));
  const gx = g.append('g').attr('transform', `translate(0,${box.b})`).call(xAxis);
  const yAxis = d3.axisLeft(y).tickValues(P.yTicks).tickSize(3.5).tickPadding(2).tickFormat(d3.format(P.yFmt));
  const gy = g.append('g').attr('transform', `translate(${box.l},0)`).call(yAxis);
  [gx, gy].forEach(a => {
    a.select('.domain').remove();
    a.selectAll('line').attr('stroke', '#222').attr('stroke-width', 0.8);
    a.selectAll('text').attr('font-size', 11).attr('font-family', '"DejaVu Serif", serif').attr('fill', '#000');
  });

  // title + x label (title sits a little left of the frame centre in the source)
  const cx = (box.l + box.r) / 2;
  g.append('text').attr('x', cx - 4).attr('y', box.t - 5).attr('text-anchor', 'middle')
    .attr('font-size', 14.8).text('Avg. Hamming Distance w.r.t Initial Point');
  g.append('text').attr('x', cx - 3).attr('y', box.b + 26).attr('text-anchor', 'middle')
    .attr('font-size', 13.6).text('Iterations');

  // sub-caption
  const cap = svg.append('text').attr('class', 'cap').attr('x', P.capX).attr('y', P.capY)
    .attr('text-anchor', 'middle').attr('font-size', 24.5)
    .attr('textLength', P.capW).attr('lengthAdjust', 'spacing');
  cap.append('tspan').text(P.tag + ' ');
  cap.append('tspan').attr('font-style', 'italic').text(P.name);
  cap.append('tspan').text(', ');
  cap.append('tspan').attr('font-style', 'italic').text('n');
  cap.append('tspan').text(` = ${P.n}, ${P.reps} reps.`);
});

// ---- legend (2 rows x 5 columns, filled column by column)
const legCols = [87, 300, 472, 615, 770];
const legRows = [531.7, 556.7];
const leg = svg.append('g');
leg.append('rect').attr('x', 83.5).attr('y', 519.5).attr('width', 897).attr('height', 64)
  .attr('rx', 3).attr('fill', '#fff').attr('stroke', '#cccccc').attr('stroke-width', 1);
SERIES.forEach((s, i) => {
  const cx = legCols[Math.floor(i / 2)], cy = legRows[i % 2];
  const ln = leg.append('line').attr('x1', cx).attr('x2', cx + 36).attr('y1', cy).attr('y2', cy)
    .attr('stroke', s.color).attr('stroke-width', 4.5);
  if (s.mark === 'dash') ln.attr('stroke-dasharray', '15,7');
  else drawMark(leg, s, cx + 18, cy, LEG_MARK[s.mark]);
  leg.append('text').attr('x', cx + 48).attr('y', cy).attr('dy', '0.35em')
    .attr('font-size', 16).text(s.name);
});
</script>
</body>
</html>
